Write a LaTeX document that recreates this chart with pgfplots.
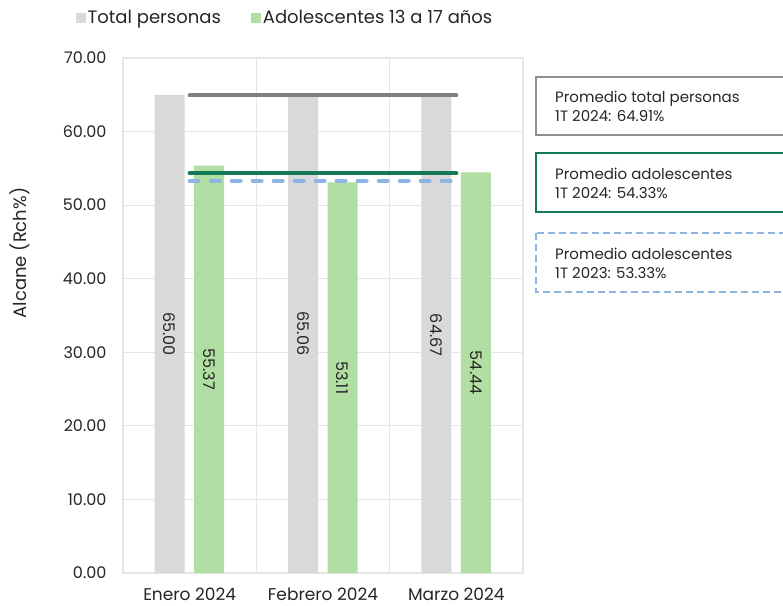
\documentclass[border=0pt]{standalone}
\usepackage{pgfplots}
\pgfplotsset{compat=1.18}
\usepackage{fontspec}
\setmainfont{Poppins}
\definecolor{bargray}{HTML}{D9D9D9}
\definecolor{bargreen}{HTML}{B1DEA2}
\definecolor{lgray}{HTML}{808080}
\definecolor{lgreen}{HTML}{127A57}
\definecolor{lblue}{HTML}{8DB4E2}
\definecolor{gridc}{HTML}{E6E6E6}
\definecolor{boxgray}{HTML}{8E8E96}
\definecolor{txt}{HTML}{262626}
\pgfplotsset{
  sqlegend/.style={legend image code/.code={\fill[##1] (0pt,-5pt) rectangle (10pt,5pt);}},
  midlabels/.style={
    nodes near coords={\pgfmathprintnumber[fixed,fixed zerofill,precision=2,assume math mode=true]{\pgfplotspointmeta}},
    visualization depends on={rawy/2 \as \halfy},
    every node near coord/.append style={xshift=#1, shift={(axis direction cs:0,-\halfy)}, rotate=-90, anchor=center,
      font=\fontsize{16}{18}\selectfont, text=txt, inner sep=0pt}},
}
\begin{document}
\begin{tikzpicture}[x=1pt,y=1pt]
\path[use as bounding box] (0,0) rectangle (783,605);
\begin{axis}[
  at={(123pt,32pt)}, anchor=south west,
  scale only axis, width=400pt, height=515pt,
  xmin=-0.5, xmax=2.5, ymin=0, ymax=70,
  xtick={0,1,2}, xticklabels={Enero 2024, Febrero 2024, Marzo 2024},
  minor xtick={-0.5,0.5,1.5,2.5},
  xminorgrids, ymajorgrids,
  ytick={0,10,...,70},
  /pgf/number format/assume math mode=true,
  yticklabel style={font=\fontsize{16}{18}\selectfont, text=txt, /pgf/number format/.cd, fixed, fixed zerofill, precision=2, assume math mode=true},
  grid style={gridc, line width=1.2pt},
  minor grid style={gridc, line width=1.2pt},
  axis line style={gridc, line width=1.2pt},
  major tick length=0pt, minor tick length=0pt,
  tick style={draw=none},
  xticklabel style={font=\fontsize{17}{19}\selectfont, text=txt},
  yticklabel shift=13pt,
  xticklabel shift=11pt,
  legend style={at={(0.405,1.078)}, anchor=center, draw=none, fill=none,
    legend columns=2, font=\fontsize{18}{20}\selectfont, text=txt,
    /tikz/every even column/.append style={column sep=28pt},
    legend cell align=left, inner sep=0pt},
  clip=false,
]
\addplot[ybar, bar width=30pt, bar shift=-20pt, fill=bargray, draw=none, sqlegend, midlabels=-20pt]
  coordinates {(0,65.00) (1,65.06) (2,64.67)};
\addlegendentry{Total personas}
\addplot[ybar, bar width=30pt, bar shift=19.5pt, fill=bargreen, draw=none, sqlegend, midlabels=19.5pt]
  coordinates {(0,55.37) (1,53.11) (2,54.44)};
\addlegendentry{Adolescentes 13 a 17 años}
\addplot[forget plot, lgray, line width=4pt, line cap=round] coordinates {(0,64.91) (2,64.91)};
\addplot[forget plot, lgreen, line width=4pt, line cap=round] coordinates {(0,54.33) (2,54.33)};
\addplot[forget plot, lblue, line width=4pt, line cap=round, dash pattern=on 9pt off 12pt] coordinates {(0,53.33) (2,53.33)};
\end{axis}
\node[rotate=90, font=\fontsize{18}{20}\selectfont, text=txt] at (20,352) {Alcane (Rch\%)};
\begin{scope}
\clip (0,0) rectangle (783,605);
\draw[boxgray, line width=2pt] (536,528) rectangle (800,470);
\node[anchor=west, align=left, font=\fontsize{15}{19}\selectfont, text=txt, inner sep=0pt] at (555,499) {Promedio total personas\\1T 2024: 64.91\%};
\draw[lgreen, line width=2pt] (536,452) rectangle (800,393);
\node[anchor=west, align=left, font=\fontsize{15}{19}\selectfont, text=txt, inner sep=0pt] at (555,422) {Promedio adolescentes\\1T 2024: 54.33\%};
\draw[lblue, line width=2pt, dash pattern=on 7pt off 4pt] (536,372) rectangle (800,313);
\node[anchor=west, align=left, font=\fontsize{15}{19}\selectfont, text=txt, inner sep=0pt] at (555,342) {Promedio adolescentes\\1T 2023: 53.33\%};
\end{scope}
\end{tikzpicture}
\end{document}
